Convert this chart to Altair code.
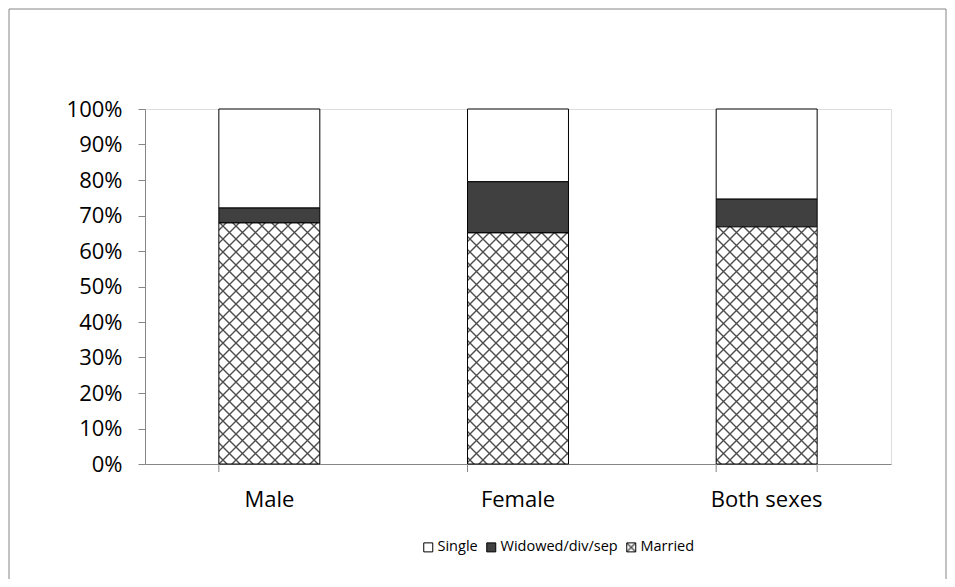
import altair as alt
import pandas as pd
import jinja2
from altair.utils import html as alt_html

# ---- data ----
groups = ["Male", "Female", "Both sexes"]
statuses = ["Single", "Widowed/div/sep", "Married"]
married = [67.9, 65.1, 66.8]
widowed = [4.2, 14.4, 7.8]
single = [27.9, 20.5, 25.4]
y_tick_values = [0, 0.1, 0.2, 0.3, 0.4, 0.5, 0.6, 0.7, 0.8, 0.9, 1.0]

# stacking order: Married at the bottom, then Widowed, then Single
stack_rank = {"Married": 0, "Widowed/div/sep": 1, "Single": 2}
series = {"Married": married, "Widowed/div/sep": widowed, "Single": single}

rows = []
for s in statuses:
    for g, v in zip(groups, series[s]):
        rows.append({"group": g, "status": s, "value": v, "rank": stack_rank[s]})
df = pd.DataFrame(rows)

# ---- styling ----
FONT = "Open Sans"
AXIS_GRAY = "#868686"
PLOT_W, PLOT_H = 746, 355
PAD_L, PAD_T = 137, 101
CANVAS_W, CANVAS_H = 939, 571
fills = ["#ffffff", "#404040", "url(#xhatch)"]

x_enc = alt.X(
    "group:N",
    sort=groups,
    scale=alt.Scale(domain=groups, paddingInner=0.594, paddingOuter=0.297),
    axis=alt.Axis(
        title=None, labelAngle=0, ticks=False, labelPadding=25,
        labelFontSize=22, labelFont=FONT, labelColor="#000000",
        domainColor=AXIS_GRAY, domainWidth=1,
    ),
)

bars = alt.Chart(df).mark_bar(stroke="#000000", strokeWidth=1).encode(
    x=x_enc,
    y=alt.Y(
        "value:Q",
        stack="normalize",
        scale=alt.Scale(domain=[0, 1], nice=False),
        axis=alt.Axis(
            title=None, values=y_tick_values, format=".0%", grid=False,
            tickSize=7, tickColor=AXIS_GRAY, domainColor=AXIS_GRAY,
            labelPadding=16, labelFontSize=22, labelFont=FONT,
            labelColor="#000000",
        ),
    ),
    color=alt.Color(
        "status:N",
        scale=alt.Scale(domain=statuses, range=fills),
        legend=alt.Legend(
            title=None, orient="none", direction="horizontal",
            legendX=276, legendY=431, symbolType="square", symbolSize=81,
            symbolStrokeColor="#000000", symbolStrokeWidth=1,
            labelFontSize=14.5, labelFont=FONT, labelColor="#000000",
            labelOffset=2, columnPadding=6, labelLimit=300,
        ),
    ),
    order=alt.Order("rank:Q", sort="ascending"),
)

tick_df = pd.DataFrame({"group": groups})
cat_ticks = alt.Chart(tick_df).mark_rule(color=AXIS_GRAY, strokeWidth=1).encode(
    x=alt.X("group:N", sort=groups, bandPosition=0),
    y=alt.value(PLOT_H),
    y2=alt.value(PLOT_H + 8),
)
end_tick = alt.Chart(pd.DataFrame({"group": [groups[-1]]})).mark_rule(
    color=AXIS_GRAY, strokeWidth=1
).encode(
    x=alt.X("group:N", sort=groups, bandPosition=1),
    y=alt.value(PLOT_H),
    y2=alt.value(PLOT_H + 8),
)

border = alt.Chart(alt.Data(values=[{"k": 1}])).mark_rect(
    fillOpacity=0, stroke=AXIS_GRAY, strokeWidth=1
).encode(
    x=alt.value(1 - PAD_L),
    x2=alt.value(CANVAS_W - 1 - PAD_L),
    y=alt.value(1 - PAD_T),
    y2=alt.value(CANVAS_H + 40),
)

chart = (
    alt.layer(border, bars, cat_ticks, end_tick)
    .properties(
        width=PLOT_W,
        height=PLOT_H,
        autosize=alt.AutoSizeParams(type="none"),
        padding={
            "left": PAD_L,
            "top": PAD_T,
            "right": CANVAS_W - PAD_L - PLOT_W,
            "bottom": CANVAS_H - PAD_T - PLOT_H,
        },
    )
    .configure_view(stroke=None)
    .configure(background="#ffffff")
)

# crosshatch fill pattern referenced by the "Married" colour
PATTERN_SVG = (
    '<svg width="0" height="0" style="position:absolute;left:0;top:0" aria-hidden="true">'
    '<defs><pattern id="xhatch" patternUnits="userSpaceOnUse" width="13" height="13">'
    '<rect x="0" y="0" width="13" height="13" fill="#ffffff"/>'
    '<path d="M-1,-1L14,14M14,-1L-1,14" stroke="#4d4d4d" stroke-width="1.4" fill="none"/>'
    "</pattern></defs></svg>"
)

_base_template = getattr(alt_html, "HTML_TEMPLATE", None) or alt_html.TEMPLATES["standard"]


class PatternTemplate(jinja2.Template):
    def render(self, *args, **kwargs):
        out = _base_template.render(*args, **kwargs)
        if "<body>" in out:
            return out.replace("<body>", "<body>\n" + PATTERN_SVG, 1)
        return PATTERN_SVG + out


chart.save(
    "out.html",
    embed_options={"renderer": "svg", "actions": False},
    template=PatternTemplate(""),
)
